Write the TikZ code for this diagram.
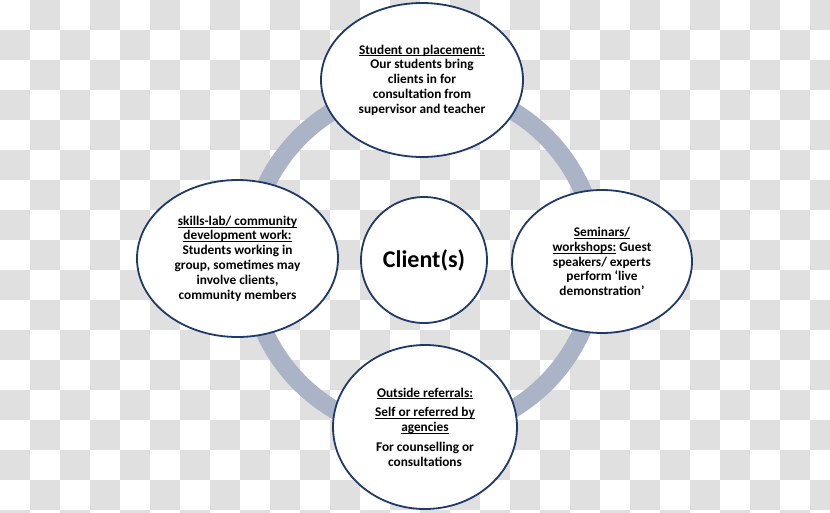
\documentclass[tikz,border=0pt]{standalone}
\usepackage{fontspec}
\setmainfont{Carlito}
\usetikzlibrary{shapes.geometric}
\definecolor{chk}{HTML}{E0E0E0}
\definecolor{ringc}{HTML}{ABB3C6}
\definecolor{edgec}{HTML}{1F3A68}
\newcommand\myul[1]{\setbox0\hbox{#1}\rlap{\rule[-2.2pt]{\wd0}{0.8pt}}\box0\relax}
\begin{document}
\begin{tikzpicture}[x=1pt,y=-1pt,
  bub/.style={ellipse, draw=edgec, line width=1.8pt, fill=white, inner sep=0pt, align=center,
    font=\bfseries\fontsize{13.3}{14.8}\selectfont},
  hub/.style={circle, draw=edgec, line width=1.8pt, fill=white, inner sep=0pt,
    font=\bfseries\fontsize{24}{28}\selectfont},
  ring/.style={draw=ringc, line width=18pt}]
\useasboundingbox (0,0) rectangle (830,512);
\begin{scope}
\clip (0,0) rectangle (830,512);
\fill[white] (0,0) rectangle (830,512);
\foreach \i in {0,...,27}{\foreach \j in {0,...,17}{%
  \pgfmathtruncatemacro{\myparity}{mod(\i+\j,2)}%
  \ifnum\myparity=1 \fill[chk] (\i*30,\j*30) rectangle ++(30,30); \fi}}
\end{scope}
\draw[ring] (423,260) circle[radius=174];
\node[bub, minimum width=202, minimum height=154] (top) at (422,80)
  {\myul{Student on placement:}\\ Our students bring\\ clients in for\\ consultation from\\ supervisor and teacher};
\node[bub, minimum width=201, minimum height=157] (left) at (237.5,258.5)
  {\myul{skills-lab/ community}\\ \myul{development work:}\\ Students working in\\ group, sometimes may\\ involve clients,\\ community members};
\node[bub, minimum width=180, minimum height=143] (right) at (602,261.5)
  {\myul{Seminars/}\\ \myul{workshops:} Guest\\ speakers/ experts\\ perform ‘live\\ demonstration’};
\node[bub, minimum width=184, minimum height=164] (bottom) at (425,427)
  {\myul{Outside referrals:}\\[5pt] \myul{Self or referred by}\\ \myul{agencies}\\[5pt] For counselling or\\ consultations};
\node[hub, minimum size=126] (client) at (424,260) {Client(s)};
\end{tikzpicture}
\end{document}
